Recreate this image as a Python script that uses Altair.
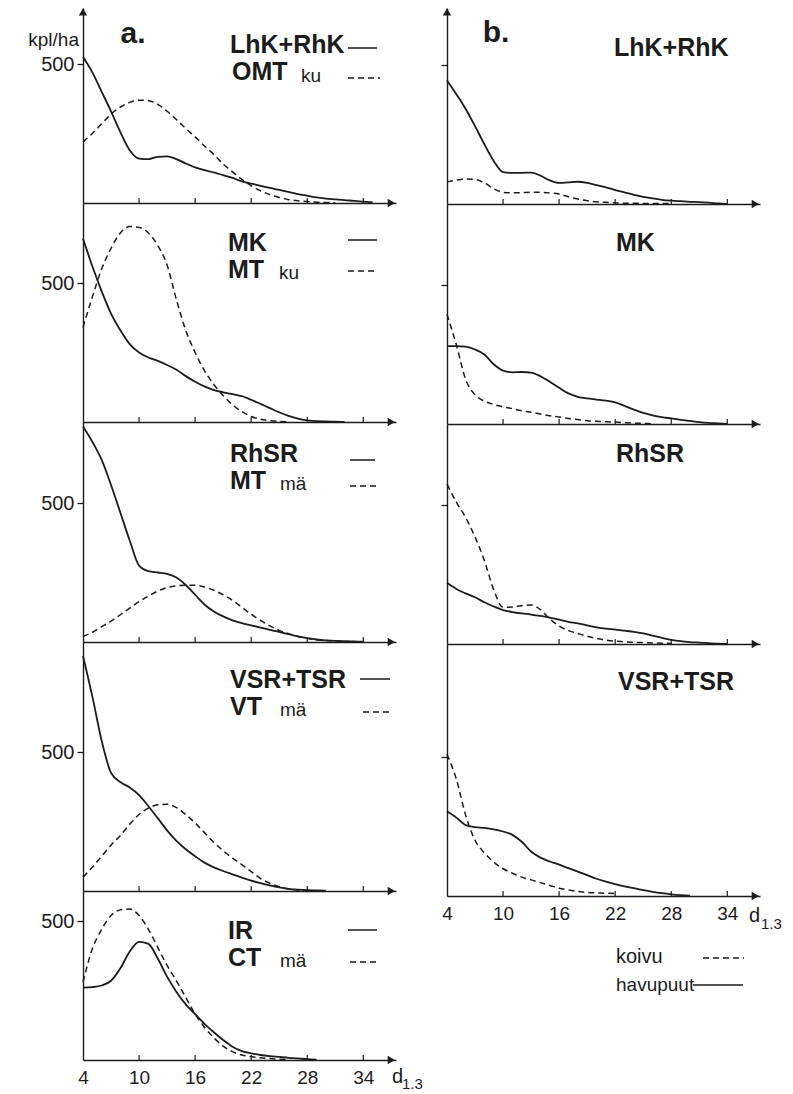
import altair as alt
import pandas as pd

FONT = "Liberation Sans"
INK = "#1c1c1c"
PX_PER_UNIT = 139 / 500  # 500 kpl/ha spans 139 px
PLOT_W = 313

X_TICKS = [4, 10, 16, 22, 28, 34]
Y_TICKS = [500]

# ---- data: stems per ha by diameter class d1.3 (values start at d = 4) ----
a1_solid = [525, 470, 400, 330, 255, 190, 160, 158, 166, 168, 158, 142, 128, 118, 110, 100, 90, 78, 70,
            62, 54, 47, 40, 32, 26, 20, 16, 13, 10, 8, 5, 2]
a1_dashed = [220, 250, 285, 320, 345, 362, 370, 368, 355, 330, 300, 268, 238, 205, 175, 140, 112, 85, 62,
             44, 30, 20, 12, 8, 5, 3, 2, 1]
a2_solid = [660, 560, 470, 390, 330, 280, 250, 232, 220, 205, 188, 165, 145, 128, 115, 107, 100, 93, 80,
            65, 50, 35, 22, 12, 6, 3, 2, 1, 0]
a2_dashed = [340, 450, 550, 625, 680, 703, 700, 680, 635, 565, 440, 330, 250, 185, 135, 95, 62, 38, 20,
             10, 5, 2, 1]
a3_solid = [775, 720, 655, 565, 465, 365, 275, 255, 250, 245, 232, 205, 170, 135, 110, 92, 78, 68, 60,
            52, 44, 36, 28, 20, 14, 9, 6, 4, 3, 2, 1]
a3_dashed = [20, 35, 55, 75, 98, 122, 145, 165, 183, 196, 202, 204, 204, 198, 186, 170, 150, 125, 100,
             78, 58, 42, 30, 20, 13, 8, 5, 3, 2, 1]
a4_solid = [845, 700, 540, 425, 392, 372, 345, 305, 262, 218, 180, 150, 125, 102, 85, 72, 60, 48, 37,
            28, 20, 13, 8, 5, 3, 2, 1]
a4_dashed = [50, 85, 125, 165, 200, 240, 275, 298, 310, 312, 300, 275, 245, 210, 175, 145, 118, 95, 70,
             45, 28, 15, 8, 4, 2, 1]
a5_solid = [260, 262, 268, 285, 330, 390, 425, 418, 365, 300, 245, 200, 165, 130, 100, 72, 48, 32, 24,
            18, 14, 11, 8, 6, 3, 1]
a5_dashed = [280, 400, 470, 520, 540, 543, 520, 470, 405, 340, 285, 225, 165, 118, 80, 50, 30, 18, 12,
             8, 5, 3, 1]
b1_solid = [445, 395, 342, 280, 215, 155, 115, 112, 112, 113, 102, 85, 76, 78, 80, 76, 68, 60, 50,
            42, 33, 26, 20, 15, 12, 10, 8, 7, 5, 2, 0]
b1_dashed = [80, 86, 90, 88, 76, 55, 42, 40, 41, 42, 42, 40, 36, 26, 18, 12, 8, 6, 4, 3, 3, 2, 2, 2, 1]
b2_solid = [280, 280, 278, 268, 250, 215, 192, 186, 187, 185, 172, 152, 130, 110, 98, 92, 88, 84, 78,
            65, 52, 40, 31, 25, 20, 15, 11, 7, 4, 2, 0]
b2_dashed = [395, 285, 160, 105, 82, 70, 62, 55, 48, 42, 36, 30, 25, 20, 16, 12, 10, 8, 7, 5, 3, 2, 1]
b3_solid = [220, 198, 182, 168, 150, 135, 122, 115, 110, 106, 101, 95, 88, 80, 74, 67, 60, 55, 52,
            48, 44, 38, 30, 22, 15, 10, 7, 5, 3, 1, 0]
b3_dashed = [575, 510, 455, 385, 300, 195, 132, 133, 138, 140, 124, 90, 65, 48, 38, 28, 20, 14, 10,
             8, 6, 5, 4, 3, 2]
b4_solid = [305, 282, 255, 248, 245, 240, 232, 220, 195, 160, 138, 124, 113, 100, 88, 75, 62, 52, 43,
            35, 28, 21, 15, 10, 6, 3, 1]
b4_dashed = [510, 420, 290, 200, 155, 122, 98, 82, 68, 58, 48, 38, 28, 22, 16, 13, 11, 10, 9]


def frame(values):
    return pd.DataFrame({"d": list(range(4, 4 + len(values))), "n": values})


ONE = pd.DataFrame({"k": [0]})


def x_enc(bottom):
    return alt.X("d:Q",
                 scale=alt.Scale(domain=[4, 37.5], nice=False, zero=False),
                 axis=alt.Axis(values=X_TICKS, ticks=False, labels=bottom, labelFlush=False,
                               labelFontSize=19, labelFont=FONT, labelColor=INK, labelPadding=8,
                               domainColor=INK, domainWidth=1.4, grid=False, title=None))


def y_enc(ymax, labels):
    return alt.Y("n:Q",
                 scale=alt.Scale(domain=[0, ymax], nice=False, zero=True),
                 axis=alt.Axis(values=Y_TICKS, tickSize=6, tickColor=INK, tickWidth=1.3,
                               labels=labels, labelFontSize=20, labelFont=FONT, labelColor=INK,
                               labelPadding=3, domainColor=INK, domainWidth=1.4, grid=False,
                               title=None))


def txt(text, x, y, size, bold=False, align="left"):
    return alt.Chart(ONE).mark_text(
        text=text, align=align, baseline="middle", font=FONT, fontSize=size,
        fontWeight="bold" if bold else "normal", color=INK
    ).encode(x=alt.value(x), y=alt.value(y))


def key(x1, x2, y, dashed):
    props = dict(color=INK, strokeWidth=1.5)
    if dashed:
        props["strokeDash"] = [6, 4]
    return alt.Chart(ONE).mark_rule(**props).encode(
        x=alt.value(x1), x2=alt.value(x2), y=alt.value(y))


def panel(solid, dashed, height, left_col, bottom, top, extras):
    ymax = height / PX_PER_UNIT
    X = x_enc(bottom)
    Y = y_enc(ymax, left_col)
    layers = []
    layers.append(alt.Chart(frame(solid)).mark_line(
        interpolate="monotone", color=INK, strokeWidth=1.8).encode(x=X, y=Y))
    layers.append(alt.Chart(frame(dashed)).mark_line(
        interpolate="monotone", color=INK, strokeWidth=1.5, strokeDash=[6, 4]).encode(x=X, y=Y))
    ticks = pd.DataFrame({"d": X_TICKS[1:], "n": [0] * 5, "n2": [5 / PX_PER_UNIT] * 5})
    layers.append(alt.Chart(ticks).mark_rule(color=INK, strokeWidth=1.2).encode(
        x=X, y=Y, y2="n2:Q"))
    arrow_r = pd.DataFrame({"d": [37.0], "n": [0]})
    layers.append(alt.Chart(arrow_r).mark_point(
        shape="triangle-right", filled=True, size=70, color=INK, opacity=1).encode(x=X, y=Y))
    if top:
        arrow_u = pd.DataFrame({"d": [4], "n": [ymax - 14]})
        layers.append(alt.Chart(arrow_u).mark_point(
            shape="triangle-up", filled=True, size=70, color=INK, opacity=1).encode(x=X, y=Y))
    layers.extend(extras)
    return alt.layer(*layers).properties(width=PLOT_W, height=height)


HA = [195, 219, 220, 249, 169]
HB = [196, 220, 220, 252]

col_a = alt.vconcat(
    panel(a1_solid, a1_dashed, HA[0], True, False, True, [
        txt("kpl/ha", -4, 32, 19, align="right"),
        txt("a.", 50, 26, 30, bold=True, align="center"),
        txt("LhK+RhK", 147, 37, 25, bold=True),
        key(265, 294, 40, False),
        txt("OMT", 149, 64, 25, bold=True),
        txt("ku", 218, 68, 19),
        key(265, 297, 70, True),
    ]),
    panel(a2_solid, a2_dashed, HA[1], True, False, False, [
        txt("MK", 145, 40, 25, bold=True),
        key(265, 294, 37, False),
        txt("MT", 145, 67, 25, bold=True),
        txt("ku", 196, 70, 19),
        key(265, 295, 68, True),
    ]),
    panel(a3_solid, a3_dashed, HA[2], True, False, False, [
        txt("RhSR", 147, 32, 25, bold=True),
        key(267, 292, 38, False),
        txt("MT", 147, 59, 25, bold=True),
        txt("mä", 197, 62, 19),
        key(267, 295, 64, True),
    ]),
    panel(a4_solid, a4_dashed, HA[3], True, False, False, [
        txt("VSR+TSR", 147, 38, 25, bold=True),
        key(277, 307, 37, False),
        txt("VT", 147, 65, 25, bold=True),
        txt("mä", 197, 68, 19),
        key(280, 307, 70, True),
    ]),
    panel(a5_solid, a5_dashed, HA[4], True, True, False, [
        txt("IR", 145, 40, 25, bold=True),
        key(265, 294, 39, False),
        txt("CT", 145, 67, 25, bold=True),
        txt("mä", 197, 70, 19),
        key(267, 297, 71, True),
        txt("d", 309, 186, 20),
        txt("1.3", 319, 193, 15),
    ]),
    spacing=0, bounds="flush",
)

col_b = alt.vconcat(
    panel(b1_solid, b1_dashed, HB[0], False, False, True, [
        txt("b.", 49, 25, 30, bold=True, align="center"),
        txt("LhK+RhK", 167, 40, 25, bold=True),
    ]),
    panel(b2_solid, b2_dashed, HB[1], False, False, False, [
        txt("MK", 169, 39, 25, bold=True),
    ]),
    panel(b3_solid, b3_dashed, HB[2], False, False, False, [
        txt("RhSR", 169, 30, 25, bold=True),
    ]),
    panel(b4_solid, b4_dashed, HB[3], False, True, False, [
        txt("VSR+TSR", 171, 38, 25, bold=True),
        txt("d", 302, 272, 20),
        txt("1.3", 314, 280, 15),
        txt("koivu", 169, 313, 20),
        key(256, 297, 314, True),
        txt("havupuut", 169, 341, 19),
        key(246, 296, 341, False),
    ]),
    spacing=0, bounds="flush",
)

chart = alt.hconcat(col_a, col_b, spacing=17).properties(
    padding={"left": 28, "top": 8, "right": 5, "bottom": 5},
    background="white",
).configure_view(stroke=None)

chart.save("out.html", embed_options={"renderer": "svg", "actions": False})
